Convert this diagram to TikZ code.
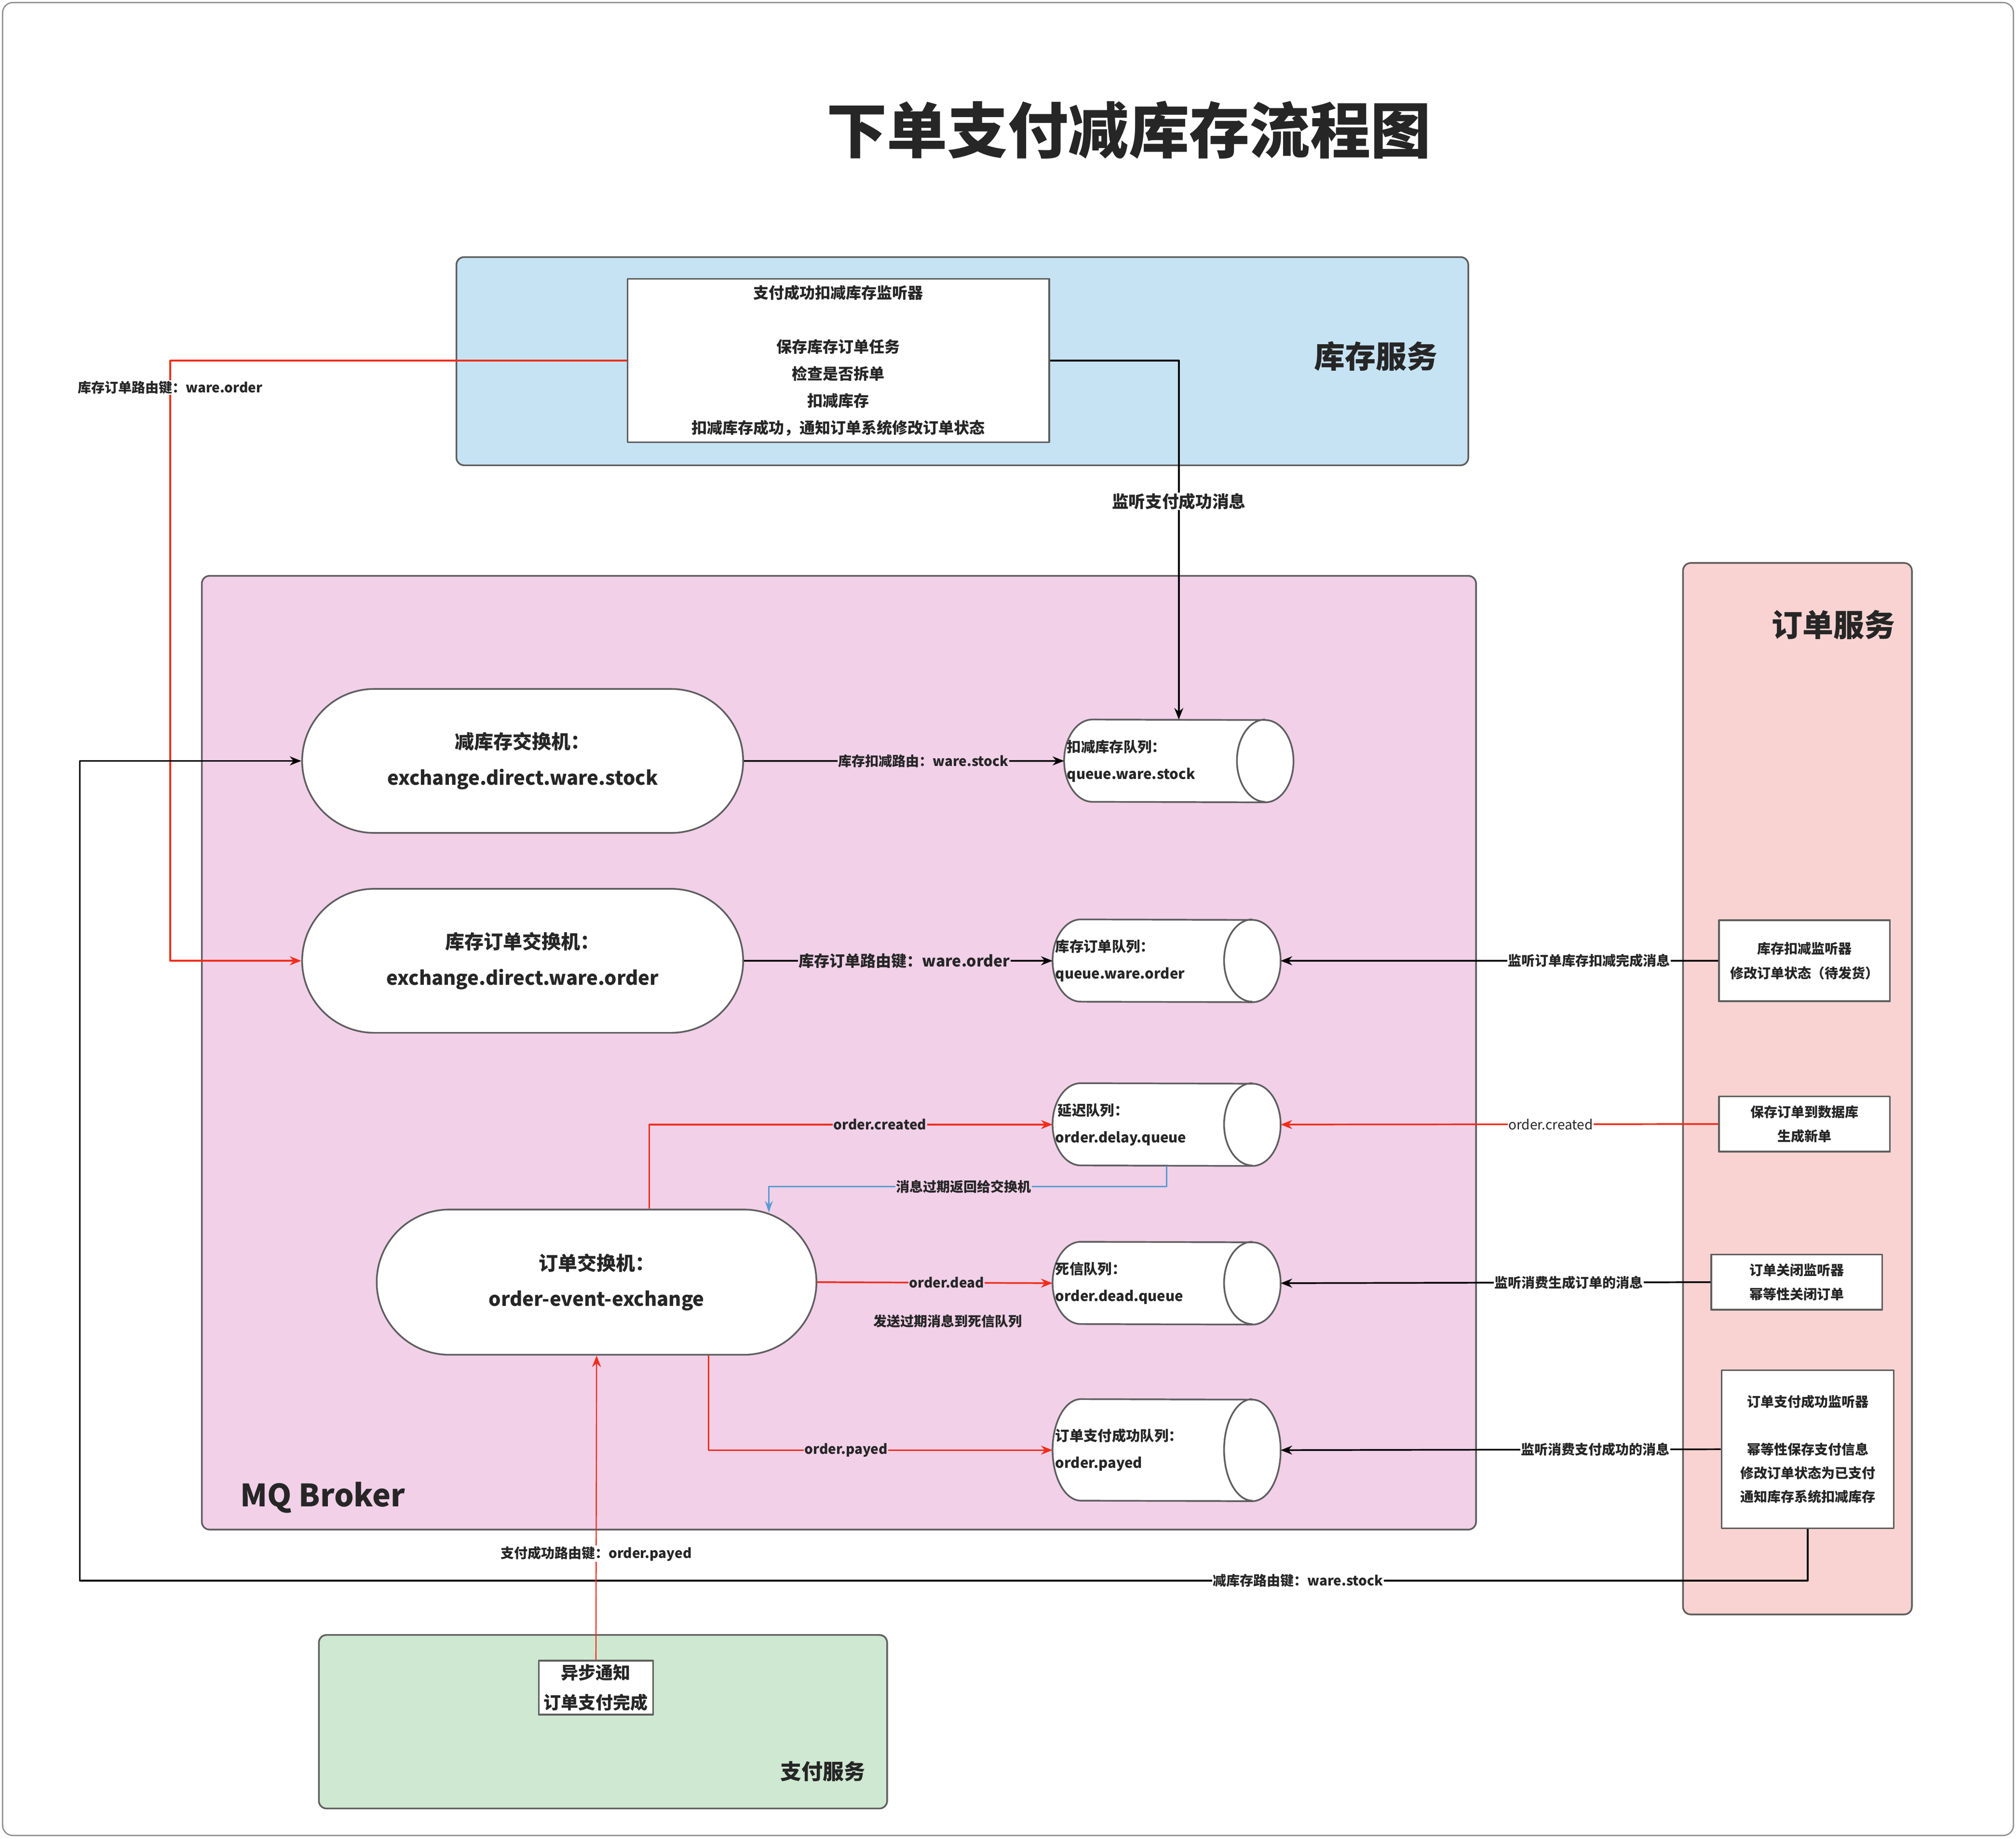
\documentclass[tikz,border=0pt]{standalone}
\usepackage{fontspec}
\setmainfont{Noto Sans CJK SC}
\usepackage{tikz}
\usetikzlibrary{calc,shapes,arrows.meta,positioning}
\definecolor{wareblue}{HTML}{C6E3F4}
\definecolor{mqpink}{HTML}{F1D0E8}
\definecolor{orderred}{HTML}{F9D3D1}
\definecolor{paygreen}{HTML}{CFE8D1}
\definecolor{bordergray}{HTML}{5E5E5E}
\definecolor{txt}{HTML}{262626}
\definecolor{lnred}{HTML}{EF2E1B}
\definecolor{lnblue}{HTML}{5A9BD2}
\tikzset{
     svc box/.style = {draw=bordergray, line width=1.3pt, rounded corners=6pt},
     svc title/.style = {text=txt, font=\fontsize{24}{26}\selectfont\bfseries},
     ex node/.style = {rounded rectangle, draw=bordergray, line width=1.3pt, fill=white, minimum width=343pt, minimum height=112pt, inner sep=0pt, align=center, text=txt, font=\fontsize{15}{28}\selectfont\bfseries},
     queue node/.style = {rectangle, minimum width=177pt, minimum height=64pt, inner sep=0pt},
     queue line/.style = {draw=bordergray, line width=1.3pt, fill=white},
     queue text/.style = {anchor=west, align=left, text=txt, inner sep=0pt, font=\fontsize{11}{21}\selectfont\bfseries},
     task node/.style = {draw=bordergray, line width=1.3pt, fill=white, align=center, inner sep=0pt, text=txt, font=\fontsize{10.5}{19}\selectfont\bfseries},
     lbl node/.style = {fill=white, inner sep=0.5pt, text=txt, font=\fontsize{10.5}{12}\selectfont\bfseries},
      msgedge/.style   = {black, line width=1.3pt, ->, >={Stealth[length=9pt,width=7pt]}},
      redge/.style = {lnred, line width=1.3pt, ->, >={Stealth[length=9pt,width=7pt]}},
      blueedge/.style = {lnblue, line width=1.3pt, ->, >={Stealth[length=9pt,width=6pt]}},
      position/.style args={#1:#2 from #3}{
        at=(#3.#1), anchor=#1+180, shift=(#1:#2)
    },
    }

\begin{document}
\begin{tikzpicture}[x=1pt, y=-1pt, line join=round]
        \useasboundingbox (0,0) rectangle (1568,1430.7);
        \draw[bordergray!70, line width=1pt, rounded corners=8pt] (2,2) rectangle (1566,1428);
        \node[text=txt, font=\fontsize{47}{50}\selectfont\bfseries] (title) at (878,101) {下单支付减库存流程图};

        \draw[svc box, fill=wareblue] (355,200) rectangle (1142,362);
        \draw[svc box, fill=mqpink] (157,448) rectangle (1148,1190);
        \draw[svc box, fill=orderred] (1309,438) rectangle (1487,1256);
        \draw[svc box, fill=paygreen] (248,1272) rectangle (690,1407);
        \node[svc title] (wt) at (1070,277) {库存服务};
        \node[svc title] (mt) at (251,1165) {MQ Broker};
        \node[svc title] (ot) at (1426,486) {订单服务};
        \node[svc title, font=\fontsize{16.5}{18}\selectfont\bfseries] (pt) at (640,1378) {支付服务};

        \node[task node, minimum width=328pt, minimum height=127pt, font=\fontsize{12}{21}\selectfont\bfseries] (lst) at (652,280.5) {支付成功扣减库存监听器\\[21pt]保存库存订单任务\\检查是否拆单\\扣减库存\\扣减库存成功，通知订单系统修改订单状态};

        \node[ex node] (e1) at (406.5,592) {减库存交换机：\\exchange.direct.ware.stock};
        \node[ex node] (e2) at (406.5,747.5) {库存订单交换机：\\exchange.direct.ware.order};
        \node[ex node, minimum width=342pt, minimum height=113pt] (e3) at (464,997.5) {订单交换机：\\order-event-exchange};

        \node[queue node, minimum width=178pt] (q1) [position=0:249pt from e1] {};
        \node[queue node] (q2) [position=0:240pt from e2] {};
        \node[queue node] (q3) [position=270:63pt from q2] {};
        \node[queue node] (q4) [position=270:59pt from q3] {};
        \node[queue node, minimum height=79pt] (q5) [position=270:58pt from q4] {};
        \foreach \q/\r in {q1/32,q2/32,q3/32,q4/32,q5/39.5}
        \draw[queue line] ([xshift=22pt]\q.north west) arc[start angle=90, end angle=270, x radius=22pt, y radius=\r pt]
          -- ([xshift=-22pt]\q.south east) arc[start angle=-90, end angle=90, x radius=22pt, y radius=\r pt] -- cycle
          ([xshift=-22pt]\q.north east) arc[start angle=90, end angle=270, x radius=22pt, y radius=\r pt];
        \node[queue text] (t1) at ([xshift=2pt]q1.west) {扣减库存队列：\\queue.ware.stock};
        \node[queue text] (t2) at ([xshift=2pt]q2.west) {库存订单队列：\\queue.ware.order};
        \node[queue text] (t3) at ([xshift=2pt]q3.west) {\,延迟队列：\\order.delay.queue};
        \node[queue text] (t4) at ([xshift=2pt]q4.west) {死信队列：\\order.dead.queue};
        \node[queue text] (t5) at ([xshift=2pt]q5.west) {订单支付成功队列：\\order.payed};

        \node[task node, minimum width=133pt, minimum height=63pt] (b1) at (1403.5,747.5) {库存扣减监听器\\修改订单状态（待发货）};
        \node[task node, minimum width=133pt, minimum height=43pt] (b2) at (1403.5,874.5) {保存订单到数据库\\生成新单};
        \node[task node, minimum width=133pt, minimum height=43pt] (b3) at (1397.5,997.5) {订单关闭监听器\\幂等性关闭订单};
        \node[task node, minimum width=134pt, minimum height=123pt, font=\fontsize{10.5}{18.5}\selectfont\bfseries] (b4) at (1406,1127.5) {订单支付成功监听器\\[18.5pt]幂等性保存支付信息\\修改订单状态为已支付\\通知库存系统扣减库存};
        \node[task node, minimum width=89pt, minimum height=42pt, font=\fontsize{13.5}{23}\selectfont\bfseries] (pn) at (463.5,1313) {异步通知\\订单支付完成};
        \node[text=txt, font=\fontsize{10.5}{12}\selectfont\bfseries] (dn) at (737,1028) {发送过期消息到死信队列};

        \draw[redge] (lst.west) -- ++(-355,0) coordinate (k1) -- node[lbl node, pos=0.045] {库存订单路由键：ware.order} (k1 |- e2.west) -- (e2.west);
        \draw[msgedge] (lst.east) -| node[lbl node, font=\fontsize{13}{15}\selectfont\bfseries, pos=0.696] {监听支付成功消息} (q1.north);
        \path[msgedge, every node/.style={lbl node, fill=mqpink}]
        (e1.east) edge node[pos=0.56] {库存扣减路由：ware.stock} (q1.west)
        (e2.east) edge node[pos=0.52, font=\fontsize{12}{14}\selectfont\bfseries] {库存订单路由键：ware.order} (q2.west);
        \draw[redge] ($(e3.north)+(41,0)$) |- node[lbl node, fill=mqpink, pos=0.786] {order.created} (q3.west);
        \draw[blueedge] (q3.south) -- ++(0,16) -| node[lbl node, fill=mqpink, pos=0.255] {消息过期返回给交换机} ($(e3.north)+(134,3)$);
        \draw[redge] (e3.east) -- node[lbl node, fill=mqpink, pos=0.55] {order.dead} (q4.west);
        \draw[redge] ($(e3.south)+(87,0)$) |- node[lbl node, fill=mqpink, pos=0.70] {order.payed} (q5.west);

        \path[msgedge, every node/.style={lbl node}]
        (b1.west) edge node[pos=0.295] {监听订单库存扣减完成消息} (q2.east)
        (b3.west) edge node[pos=0.33] {监听消费生成订单的消息} (q4.east)
        (b4.west) edge node[pos=0.285] {监听消费支付成功的消息} (q5.east);
        \draw[redge] (b2.west) -- node[lbl node, font=\fontsize{10.5}{12}\selectfont, pos=0.383] {order.created} (q3.east);
        \draw[msgedge] (b4.south) -- ++(0,40) -- node[lbl node, pos=0.295] {减库存路由键：ware.stock} ++(-1344,0) |- (e1.west);
        \draw[redge, line width=0.9pt] (pn.north) -- node[lbl node, pos=0.349] {支付成功路由键：order.payed} (e3.south);
    \end{tikzpicture}
\end{document}
